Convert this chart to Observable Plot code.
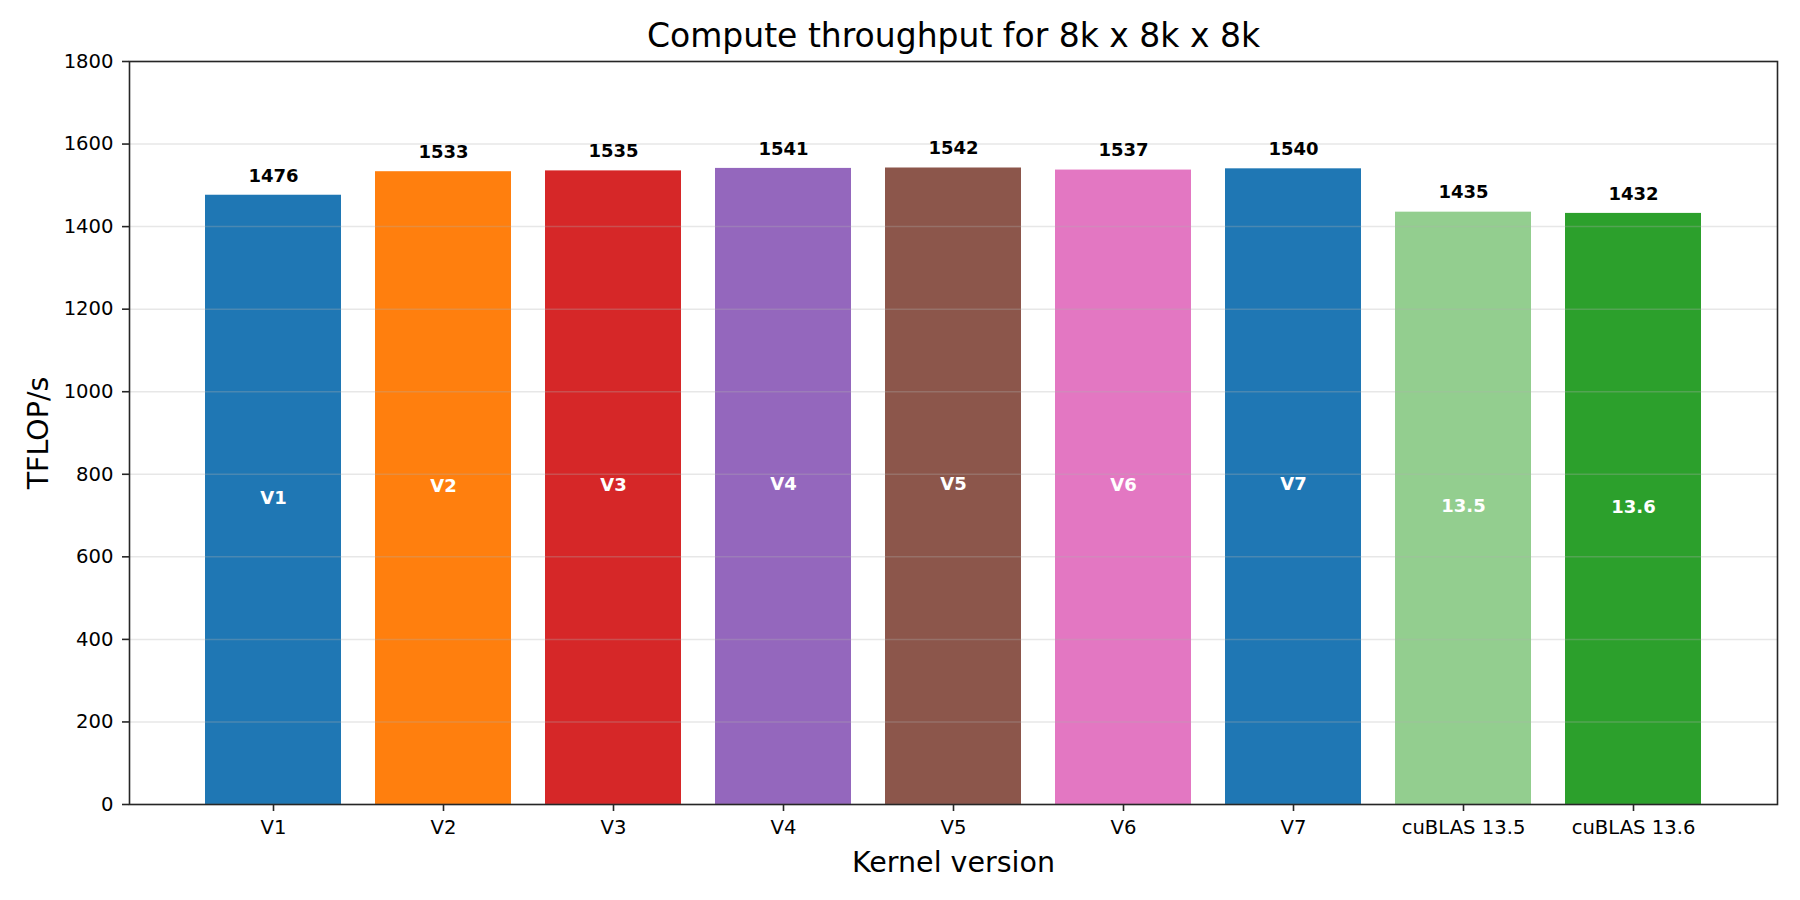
<!DOCTYPE html>
<html>
<head>
<meta charset="utf-8">
<script src="https://cdn.jsdelivr.net/npm/d3@7"></script>
<script src="https://cdn.jsdelivr.net/npm/@observablehq/plot@0.6"></script>
<style>
  html, body { margin: 0; padding: 0; background: #fff; }
  #chart svg { display: block; }
</style>
</head>
<body>
<div id="chart"></div>
<script>
const categories = ["V1", "V2", "V3", "V4", "V5", "V6", "V7", "cuBLAS 13.5", "cuBLAS 13.6"];
const values = [1476, 1533, 1535, 1541, 1542, 1537, 1540, 1435, 1432];
const innerLabels = ["V1", "V2", "V3", "V4", "V5", "V6", "V7", "13.5", "13.6"];
const colors = ["#1f77b4", "#ff7f0e", "#d62728", "#9467bd", "#8c564b", "#e377c2", "#1f77b4", "#93ce8f", "#2ca02c"];
const yTicks = [0, 200, 400, 600, 800, 1000, 1200, 1400, 1600, 1800];
const titleText = "Compute throughput for 8k x 8k x 8k";
const xLabel = "Kernel version";
const yLabel = "TFLOP/s";

const data = categories.map((c, i) => ({cat: c, value: values[i], inner: innerLabels[i], color: colors[i]}));

const spine = "#262626";
const font = "DejaVu Sans, sans-serif";

const chart = Plot.plot({
  width: 1800,
  height: 900,
  marginLeft: 129,
  marginRight: 23,
  marginTop: 61,
  marginBottom: 96,
  style: {fontFamily: font, color: "#000", background: "#fff"},
  x: {domain: categories, paddingInner: 0.2, paddingOuter: 0.447, label: null},
  y: {domain: [0, 1800], label: null},
  color: {type: "identity"},
  marks: [
    Plot.barY(data, {x: "cat", y: "value", fill: "color"}),
    Plot.gridY(yTicks, {stroke: "#b0b0b0", strokeOpacity: 0.3, strokeWidth: 1.5}),
    Plot.frame({stroke: spine, strokeWidth: 1.6}),
    Plot.axisY(yTicks, {tickSize: 7, tickPadding: 9, fontSize: 19.6, stroke: spine, strokeWidth: 1.6, label: null, tickFormat: d => String(d)}),
    Plot.axisX({tickSize: 7, tickPadding: 9, fontSize: 19.6, stroke: spine, strokeWidth: 1.6, label: null}),
    Plot.text(data, {x: "cat", y: "value", text: d => String(d.value), dy: -19.5, fontSize: 18, fontWeight: "bold", fill: "#000", lineAnchor: "middle"}),
    Plot.text(data, {x: "cat", y: d => d.value / 2, text: "inner", dy: -2, fontSize: 18, fontWeight: "bold", fill: "#fff", lineAnchor: "middle"}),
    Plot.text([titleText], {frameAnchor: "top", lineAnchor: "middle", textAnchor: "middle", dy: -24.6, fontSize: 33, fill: "#000"}),
    Plot.text([xLabel], {frameAnchor: "bottom", lineAnchor: "middle", textAnchor: "middle", dy: 58, fontSize: 28.5, fill: "#000"}),
    Plot.text([yLabel], {frameAnchor: "left", lineAnchor: "middle", textAnchor: "middle", dx: -91, rotate: -90, fontSize: 28.5, fill: "#000"})
  ]
});
document.getElementById("chart").appendChild(chart);
</script>
</body>
</html>
